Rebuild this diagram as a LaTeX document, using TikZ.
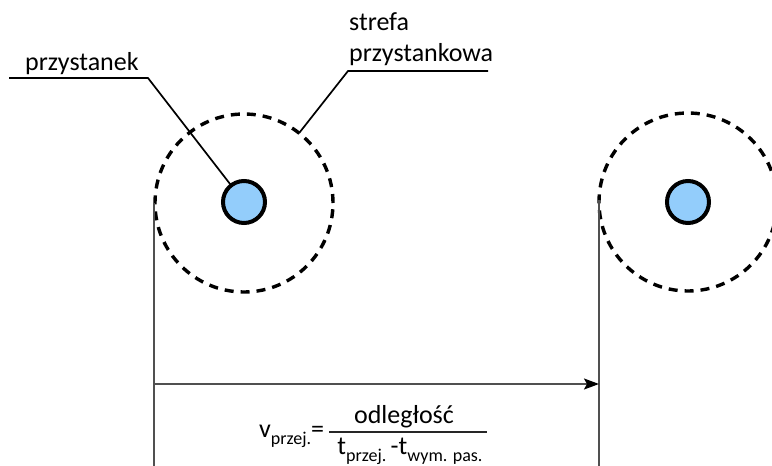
\documentclass[tikz,border=0pt]{standalone}
\usepackage{fontspec}
\setmainfont{Carlito}
\usetikzlibrary{arrows.meta}
\definecolor{stopblue}{HTML}{93CDFB}
\definecolor{dimgrey}{HTML}{505050}
\newcommand{\lowsub}[1]{\raisebox{-0.3em}{\fontsize{18}{18}\selectfont #1}}
\tikzset{
  stopnode/.style={circle, draw=black, line width=4pt, fill=stopblue, minimum size=42pt, inner sep=0pt, outer sep=0pt},
  zonenode/.style={circle, draw=black, line width=3.4pt, dash pattern=on 9pt off 7pt, minimum size=178pt, inner sep=0pt, outer sep=0pt},
  leader/.style={draw=black, line width=1.7pt},
  dimline/.style={draw=dimgrey, line width=1.9pt},
  lbl/.style={font=\fontsize{26}{30}\selectfont, inner sep=0pt, anchor=base west},
  frm/.style={font=\fontsize{26}{30}\selectfont, inner sep=0pt}
}
\begin{document}
\begin{tikzpicture}[x=1pt,y=-1pt]
\useasboundingbox (0,0) rectangle (772,466);
\clip (0,0) rectangle (772,466);
% zones and stops
\node[zonenode] (zoneA) at (244,203) {};
\node[stopnode] (stopA) at (244,202) {};
\node[zonenode] (zoneB) at (688,202) {};
\node[stopnode] (stopB) at (688,202) {};
% labels
\node[lbl] (lblstop) at (25,70) {przystanek};
\node[lbl] (lblzone1) at (349,30) {strefa};
\node[lbl] (lblzone2) at (349,61) {przystankowa};
% leaders
\coordinate (stopstart) at (9,78);
\coordinate (stopknee) at (148,78);
\draw[leader] (stopstart) -- (stopknee) -- (stopA);
\coordinate (zoneend) at (488,71);
\coordinate (zoneknee) at (348,71);
\draw[leader] (zoneend) -- (zoneknee) -- (zoneA);
% dimension lines
\coordinate (dimAtop) at (154,203);
\coordinate (dimAbot) at (154,466);
\coordinate (dimBtop) at (599,200);
\coordinate (dimBbot) at (599,466);
\draw[dimline] (dimAtop) -- (dimAbot);
\draw[dimline] (dimBtop) -- (dimBbot);
\coordinate (arrA) at (154,384);
\coordinate (arrB) at (599,384);
\draw[dimline, -{Stealth[length=15pt,width=11pt,inset=3pt,black]}] (arrA) -- (arrB);
% formula
\node[frm, anchor=base west] (vlhs) at (259,437) {v\lowsub{przej.}=};
\node[frm, anchor=base] (num) at (404,423) {odległość};
\node[frm, anchor=base] (den) at (410,454) {t\lowsub{przej.}\,-t\lowsub{wym. pas.}};
\coordinate (barL) at (329,432);
\coordinate (barR) at (487,432);
\draw[draw=black!85, line width=1.9pt] (barL) -- (barR);
\end{tikzpicture}
\end{document}
